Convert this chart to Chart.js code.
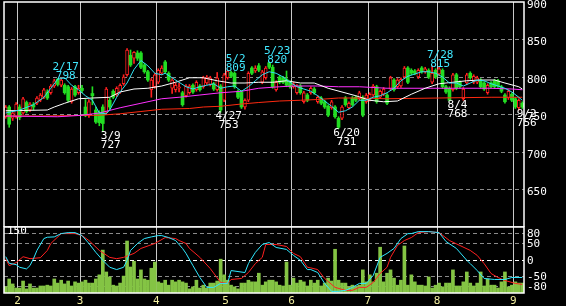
<!DOCTYPE html>
<html>
<head>
<meta charset="utf-8">
<script src="https://cdn.jsdelivr.net/npm/chart.js@4.4.0/dist/chart.umd.min.js"></script>
<style>
  html, body { margin: 0; padding: 0; background: #000; }
  #quadro { position: relative; width: 566px; height: 306px; overflow: hidden; background: #000; }
  #precos { position: absolute; left: 0; top: 0; }
  #volume { position: absolute; left: 0; top: 226px; }
</style>
</head>
<body>
<div id="quadro">
  <canvas id="precos" width="566" height="227"></canvas>
  <canvas id="volume" width="566" height="80"></canvas>
</div>
<script>
// candles diarios (fim de jan ate inicio de set)
const abertura = [747,760,745,747,760,752,766,756,763,765,769,773,780,779,788,797,789,789,787,767,
  787,779,785,760,749,778,756,752,760,753,769,781,776,780,791,803,829,825,832,832,
  816,807,783,787,793,805,820,805,785,783,785,779,775,779,789,783,788,787,792,790,
  791,783,788,769,799,806,805,781,780,760,769,812,808,815,793,799,819,813,783,800,
  799,797,793,787,779,788,767,776,779,784,767,772,767,761,759,760,745,745,772,759,
  772,773,771,773,767,770,776,787,773,777,776,784,796,787,788,800,812,809,808,800,
  812,807,809,793,809,804,809,787,785,783,803,793,771,792,805,793,793,796,792,779,
  792,795,795,787,776,772,777,771,759,765];
const maxima = [762,762,754,766,763,773,768,766,766,774,778,785,783,790,797,798,797,791,789,786,
  789,789,789,770,770,787,760,755,763,786,772,783,787,791,803,838,836,834,835,834,
  818,809,798,805,811,815,822,807,798,792,792,781,790,790,791,795,790,801,802,801,
  793,806,790,805,809,808,807,783,782,771,807,814,815,818,809,814,820,816,795,802,
  801,808,795,793,790,790,781,778,787,786,775,774,769,763,769,762,747,762,774,767,
  774,775,781,775,778,779,790,789,783,786,778,801,798,798,799,814,814,811,810,811,
  814,813,811,815,811,813,811,789,787,805,805,795,786,805,807,803,801,798,794,791,
  794,797,797,789,778,783,779,773,771,767];
const minimas = [745,733,742,745,743,750,752,754,756,763,767,771,770,777,786,788,787,777,767,765,
  774,777,779,747,746,763,738,735,727,750,757,771,774,778,789,801,814,818,822,811,
  805,794,773,785,791,803,805,794,778,780,780,761,773,777,778,781,781,785,790,788,
  782,781,753,767,797,799,785,771,758,757,767,803,806,807,791,797,811,785,781,791,
  791,787,785,785,777,777,765,767,777,777,765,763,758,747,757,745,731,743,761,757,
  761,767,769,747,765,768,774,765,771,775,763,782,781,785,786,798,791,803,803,798,
  805,805,798,791,798,802,785,778,768,781,783,785,769,790,797,791,791,785,782,777,
  785,785,786,779,765,770,767,758,756,758];
const fechamento = [760,737,752,764,746,771,754,764,760,772,776,783,772,788,795,790,796,779,769,784,
  776,785,782,749,767,775,740,739,738,784,760,773,785,789,800,836,816,833,825,813,
  807,796,796,803,809,812,807,796,796,789,787,763,788,788,780,793,783,799,800,799,
  784,799,756,803,808,801,787,773,760,769,805,805,812,809,807,812,813,787,793,793,
  793,789,787,791,788,779,779,769,785,779,773,765,760,749,767,747,733,760,763,765,
  763,769,779,749,776,777,788,767,781,784,765,799,783,796,797,812,793,805,805,809,
  807,811,800,805,800,811,787,780,769,803,785,787,784,803,799,801,799,787,784,789,
  787,787,788,781,767,781,769,760,769,760];
const volumes = [15,34,22,12,12,29,10,22,12,12,17,17,19,17,34,24,31,22,29,17,
  27,24,27,31,24,24,34,44,104,51,39,19,17,24,41,126,63,77,34,56,
  34,31,60,75,27,24,31,19,31,27,31,27,24,10,15,31,12,19,12,24,
  24,29,82,44,31,19,15,10,24,24,31,27,27,48,19,27,31,31,27,19,
  17,75,19,36,24,31,27,17,31,24,31,17,24,36,29,106,31,24,24,15,
  19,15,19,56,27,44,27,48,111,27,48,56,36,19,31,114,19,44,27,19,
  19,17,39,12,19,24,15,24,24,56,17,17,27,51,24,17,24,51,17,34,
  19,19,12,27,51,15,19,27,24,24];

// medias moveis: [dia, preco]
const mediaCurta = [[0,752],[4,756],[8,763],[11,773],[13,785],[15,797],[17,799],[19,789],[21,783],[23,775],
  [25,769],[27,752],[29,751],[30,756],[32,773],[33,780],[35,792],[37,810],[39,822],[41,815],[43,805],
  [45,803],[46,805],[48,799],[50,793],[52,787],[54,784],[56,787],[58,789],[60,791],[62,785],[64,787],
  [66,788],[68,781],[70,787],[72,795],[74,803],[76,807],[78,805],[80,800],[82,793],[84,787],[86,784],
  [88,781],[90,775],[92,768],[94,761],[96,753],[98,755],[100,760],[102,769],[104,769],[106,773],[108,775],
  [110,779],[112,785],[114,795],[116,801],[118,804],[120,807],[122,807],[124,805],[126,800],[128,792],
  [130,792],[132,788],[134,792],[136,796],[138,795],[140,791],[142,788],[144,785],[146,780],[148,773],[149,769]];
const mediaMedia = [[0,755],[12,756],[14,760],[17,765],[21,771],[25,772],[30,773],[33,780],[37,784],[41,785],
  [45,788],[49,793],[53,799],[57,799],[61,795],[65,792],[69,792],[73,793],[77,793],[81,795],[85,792],
  [89,792],[93,785],[97,780],[101,775],[105,769],[109,767],[113,768],[117,777],[121,785],[125,791],
  [129,793],[133,795],[137,796],[141,796],[144,792],[148,787],[149,784]];
const mediaLonga = [[0,748],[15,747],[22,749],[27,752],[33,759],[39,765],[45,771],[50,773],[56,776],[62,779],
  [68,781],[73,785],[79,787],[83,788],[90,788],[96,787],[102,787],[110,785],[125,785],[140,785],[146,784],[149,783]];
const mediaAnual = [[0,748],[10,748],[27,749],[33,751],[39,754],[45,757],[53,758],[57,760],[62,761],[68,764],
  [73,766],[79,768],[85,769],[90,770],[96,772],[102,772],[110,771],[125,772],[140,773],[149,773]];

// osciladores do painel inferior: [dia, valor]
const oscAzul = [[0,10],[1,-10],[3,-14],[4,-22],[6,-27],[7,-17],[8,4],[9,29],[11,65],[12,69],[14,70],[16,80],
  [18,83],[20,83],[22,74],[24,50],[26,23],[28,-1],[30,-22],[32,-29],[34,-22],[35,-1],[36,29],[38,50],[40,65],
  [42,70],[44,74],[45,74],[47,68],[49,59],[51,35],[52,20],[54,-17],[56,-53],[58,-83],[60,-83],[62,-71],[64,-71],
  [65,-32],[67,-35],[69,-38],[70,-11],[72,23],[74,47],[76,53],[78,38],[81,32],[83,14],[85,-1],[87,-29],[88,-29],
  [90,-38],[92,-71],[94,-95],[96,-95],[98,-92],[100,-83],[102,-71],[104,-71],[106,-47],[108,8],[110,20],[112,35],
  [114,65],[116,80],[117,80],[119,86],[122,86],[125,83],[127,56],[130,35],[133,-1],[134,-11],[136,-32],[138,-56],
  [141,-59],[144,-59],[146,-53],[149,-53]];
const oscVermelho = [[0,4],[1,-17],[3,-8],[5,10],[7,4],[10,7],[12,29],[13,50],[16,80],[18,80],[20,80],[22,74],
  [24,59],[27,29],[30,8],[32,4],[34,8],[37,20],[39,35],[43,50],[46,68],[49,65],[50,59],[52,50],[53,35],[56,8],
  [59,-26],[62,-68],[64,-71],[65,-59],[68,-56],[70,-38],[72,-11],[74,8],[75,47],[78,47],[81,41],[83,20],[85,10],
  [87,-22],[88,-24],[90,-29],[92,-56],[95,-83],[98,-92],[100,-92],[102,-83],[104,-83],[106,-68],[108,-41],
  [110,-22],[111,8],[113,44],[115,59],[117,68],[119,83],[122,86],[125,83],[128,59],[131,44],[134,29],[136,14],
  [138,-11],[140,-41],[142,-53],[144,-62],[147,-71],[149,-74]];

// inicio de cada mes (indice do dia) e rotulo
const inicioMes = [4, 22, 44, 64, 83, 105, 125, 147];
const rotuloMes = ['2', '3', '4', '5', '6', '7', '8', '9'];
const ticksPreco = [650, 700, 750, 800, 850, 900];
const ticksOsc = [-80, -50, 0, 50, 80];

// topos e fundos marcados
const marcas = [
  { i: 15, data: '2/17', tipo: 'alta' },
  { i: 28, data: '3/9', tipo: 'baixa' },
  { i: 62, data: '4/27', tipo: 'baixa' },
  { i: 64, data: '5/2', tipo: 'alta' },
  { i: 76, data: '5/23', tipo: 'alta' },
  { i: 96, data: '6/20', tipo: 'baixa' },
  { i: 123, data: '7/28', tipo: 'alta' },
  { i: 128, data: '8/4', tipo: 'baixa' },
  { i: 148, data: '9/2', tipo: 'baixa' }
];

const dias = abertura.map((_, i) => i);
const fonte = { family: 'DejaVu Sans Mono', size: 11 };
const VERMELHO = '#ff2020';
const VERDE = '#22dd22';
const subiu = i => fechamento[i] >= abertura[i];
const pares = lista => lista.map(([x, y]) => ({ x, y }));
const corMes = c => inicioMes.includes(c.index) ? '#c8c8c8' : 'rgba(0,0,0,0)';

// sem folga automatica dos rotulos: a area do grafico fica onde a gente manda
function ajustaEixo(largura, altura) {
  return s => {
    if (largura !== null) s.width = largura;
    if (altura !== null) s.height = altura;
    s.paddingTop = 0; s.paddingBottom = 0;
    s.paddingLeft = 0; s.paddingRight = 0;
  };
}

const moldura = {
  id: 'moldura',
  afterDraw(chart) {
    const { ctx, chartArea: a } = chart;
    ctx.save();
    ctx.strokeStyle = '#ffffff';
    ctx.lineWidth = 1.5;
    ctx.strokeRect(a.left, a.top, a.right - a.left, a.bottom - a.top);
    ctx.restore();
  }
};

const anotacoes = {
  id: 'anotacoes',
  afterDraw(chart) {
    const { ctx } = chart;
    const xs = chart.scales.x, ys = chart.scales.y;
    ctx.save();
    ctx.font = '11px "DejaVu Sans Mono"';
    ctx.textAlign = 'center';
    ctx.textBaseline = 'middle';
    marcas.forEach(m => {
      const x = xs.getPixelForValue(m.i) + 8;
      if (m.tipo === 'alta') {
        const y = ys.getPixelForValue(maxima[m.i]);
        ctx.fillStyle = '#40e8ff';
        ctx.fillText(m.data, x, y - 11);
        ctx.fillText(String(maxima[m.i]), x, y - 2);
      } else {
        const y = ys.getPixelForValue(minimas[m.i]);
        ctx.fillStyle = '#ffffff';
        ctx.fillText(m.data, x, y + 4);
        ctx.fillText(String(minimas[m.i]), x, y + 13);
      }
    });
    ctx.restore();
  }
};

function linha(dados, cor, ordem, eixo) {
  return {
    type: 'line', data: pares(dados), borderColor: cor, borderWidth: 1,
    pointRadius: 0, order: ordem, yAxisID: eixo
  };
}

new Chart(document.getElementById('precos'), {
  type: 'bar',
  data: {
    labels: dias,
    datasets: [
      linha(mediaCurta, '#30e0f0', -4, 'y'),
      linha(mediaMedia, '#ffffff', -3, 'y'),
      linha(mediaLonga, '#ff30ff', -2, 'y'),
      linha(mediaAnual, '#ff2a10', -1, 'y'),
      {
        data: abertura.map((o, i) => [o, fechamento[i]]),
        backgroundColor: c => subiu(c.dataIndex) ? '#000000' : VERDE,
        borderColor: c => subiu(c.dataIndex) ? VERMELHO : VERDE,
        borderWidth: c => subiu(c.dataIndex) ? 1 : 0,
        borderSkipped: false,
        barThickness: 3, grouped: false, order: 1
      },
      {
        data: minimas.map((l, i) => [l, maxima[i]]),
        backgroundColor: c => subiu(c.dataIndex) ? VERMELHO : VERDE,
        barThickness: 1, grouped: false, order: 2
      }
    ]
  },
  options: {
    responsive: false, animation: false, devicePixelRatio: 1,
    layout: { autoPadding: false, padding: { left: 4, top: 2, right: 0, bottom: 0 } },
    plugins: { legend: { display: false }, tooltip: { enabled: false } },
    scales: {
      x: {
        type: 'category', offset: true,
        grid: { offset: true, drawTicks: false, color: corMes },
        ticks: { display: false },
        border: { display: false },
        afterFit: ajustaEixo(null, 0)
      },
      y: {
        position: 'right', min: 600, max: 900,
        afterBuildTicks: s => { s.ticks = ticksPreco.map(v => ({ value: v })); },
        ticks: { color: '#ffffff', font: fonte, padding: 3, labelOffset: 3, autoSkip: false },
        grid: { drawTicks: false, color: c => c.tick && c.tick.value === 900 ? 'rgba(0,0,0,0)' : '#8a8a8a' },
        border: { display: false, dash: [4, 3] },
        afterFit: ajustaEixo(42, null)
      }
    }
  },
  plugins: [moldura, anotacoes]
});

new Chart(document.getElementById('volume'), {
  type: 'bar',
  data: {
    labels: dias,
    datasets: [
      linha(oscAzul, '#30e8ff', -2, 'yo'),
      linha(oscVermelho, '#ff2020', -1, 'yo'),
      { data: volumes, backgroundColor: '#84c444', yAxisID: 'yv', barThickness: 3, order: 1 }
    ]
  },
  options: {
    responsive: false, animation: false, devicePixelRatio: 1,
    layout: { autoPadding: false, padding: { left: 4, top: 1, right: 0, bottom: 0 } },
    plugins: { legend: { display: false }, tooltip: { enabled: false } },
    scales: {
      x: {
        type: 'category', offset: true,
        grid: { offset: true, drawTicks: false, color: corMes },
        border: { display: false },
        ticks: {
          autoSkip: false, maxRotation: 0, minRotation: 0, color: '#f4f0a0', font: fonte,
          padding: 2, labelOffset: -2,
          callback: (v, i) => {
            const k = inicioMes.indexOf(i);
            return k >= 0 ? rotuloMes[k] : '';
          }
        },
        afterFit: ajustaEixo(null, 13)
      },
      yo: {
        position: 'right', min: -100, max: 100,
        afterBuildTicks: s => { s.ticks = ticksOsc.map(v => ({ value: v })); },
        ticks: { color: '#ffffff', font: fonte, padding: 3, labelOffset: 1, autoSkip: false },
        grid: { drawTicks: false, color: c => c.tick && c.tick.value === 0 ? '#ffffff' : '#8a8a8a' },
        border: { display: false, dash: [4, 3] },
        afterFit: ajustaEixo(42, null)
      },
      yv: {
        position: 'left', min: 0, max: 160,
        afterBuildTicks: s => { s.ticks = [{ value: 150 }]; },
        ticks: { mirror: true, color: '#ffffff', font: fonte, padding: 3 },
        grid: { display: false },
        border: { display: false },
        afterFit: ajustaEixo(0, null)
      }
    }
  },
  plugins: [moldura]
});
</script>
</body>
</html>
